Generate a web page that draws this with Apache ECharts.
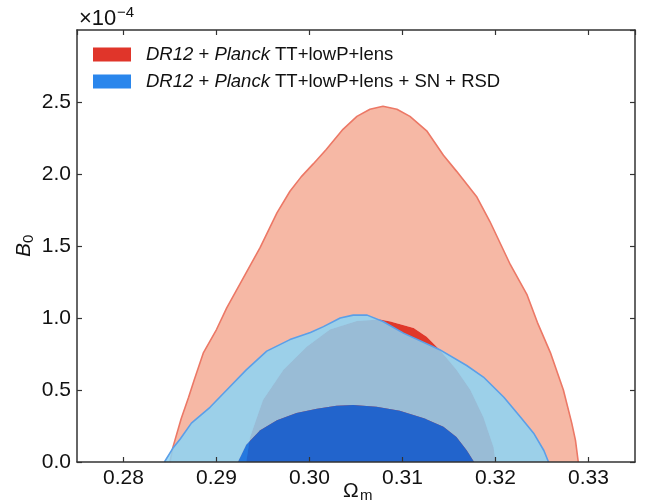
<!DOCTYPE html>
<html>
<head>
<meta charset="utf-8">
<script src="https://cdn.jsdelivr.net/npm/echarts@6/dist/echarts.min.js"></script>
<style>html,body{margin:0;padding:0;background:#fff;}#chart{width:650px;height:502px;}</style>
</head>
<body>
<div id="chart"></div>
<script>
// ---- data (Omega_m, B0 in units of 1e-4) ----
const seriesNames = ['DR12 + Planck TT+lowP+lens', 'DR12 + Planck TT+lowP+lens + SN + RSD'];
const redOuter = [[0.2850,0],[0.2853,0.10],[0.2862,0.30],[0.2870,0.45],[0.2876,0.57],[0.2886,0.76],[0.2900,0.92],[0.2911,1.07],[0.2929,1.28],[0.2947,1.49],[0.2965,1.73],[0.2979,1.88],[0.2991,1.98],[0.3004,2.07],[0.3018,2.17],[0.3036,2.31],[0.3051,2.40],[0.3065,2.45],[0.3079,2.47],[0.3094,2.45],[0.3108,2.40],[0.3126,2.30],[0.3144,2.13],[0.3158,2.02],[0.3180,1.84],[0.3194,1.67],[0.3216,1.37],[0.3234,1.16],[0.3245,0.97],[0.3259,0.76],[0.3273,0.50],[0.3282,0.27],[0.3286,0.15],[0.3289,0]];
const redInner = [[0.2932,0],[0.2936,0.17],[0.2950,0.43],[0.2972,0.64],[0.2997,0.80],[0.3022,0.92],[0.3051,0.98],[0.3076,0.99],[0.3087,0.976],[0.3112,0.93],[0.3126,0.87],[0.3140,0.78],[0.3158,0.64],[0.3173,0.50],[0.3187,0.31],[0.3198,0.10],[0.3200,0]];
const blueOuter = [[0.2844,0],[0.2853,0.095],[0.2861,0.16],[0.2873,0.27],[0.2893,0.38],[0.2911,0.50],[0.2932,0.64],[0.2954,0.77],[0.2979,0.85],[0.3001,0.90],[0.3015,0.94],[0.3033,1.00],[0.3047,1.02],[0.3062,1.02],[0.3079,0.976],[0.3101,0.895],[0.3140,0.78],[0.3169,0.67],[0.3187,0.59],[0.3209,0.45],[0.3227,0.31],[0.3241,0.20],[0.3252,0.08],[0.3257,0]];
const blueInner = [[0.2923,0],[0.2932,0.12],[0.2947,0.22],[0.2965,0.29],[0.2986,0.34],[0.3008,0.37],[0.3029,0.39],[0.3047,0.395],[0.3072,0.384],[0.3097,0.356],[0.3123,0.303],[0.3144,0.244],[0.3158,0.174],[0.3169,0.082],[0.3177,0]];

const FONT = 'Liberation Sans';
const AXC = '#333';

function polyRender(upper, lower, fill) {
  return function (params, api) {
    if (params.dataIndex !== 0) return null;
    const pts = upper.map(p => api.coord(p));
    if (lower) for (let i = lower.length - 1; i >= 0; i--) pts.push(api.coord(lower[i]));
    return { type: 'polygon', shape: { points: pts }, style: { fill: fill, stroke: null } };
  };
}
function band(name, upper, lower, fill, z) {
  return { type: 'custom', name: name, data: upper, encode: { x: 0, y: 1 }, z: z, silent: true,
    renderItem: polyRender(upper, lower, fill), clip: true };
}
function edge(name, pts, color, z) {
  return { type: 'line', name: name, data: pts, z: z, silent: true, showSymbol: false, symbol: 'none',
    lineStyle: { color: color, width: 1.6 }, smooth: false };
}
function xAx(pos, labels) {
  return { type: 'value', position: pos, min: 0.275, max: 0.335, z: 10,
    axisLine: { onZero: false, lineStyle: { color: AXC, width: 1.5 } },
    axisTick: { inside: true, length: 5, lineStyle: { color: AXC, width: 1.2 } },
    splitLine: { show: false },
    axisLabel: { show: labels, formatter: v => v.toFixed(2), showMinLabel: false, showMaxLabel: false,
      fontSize: 21, fontFamily: FONT, color: '#111', margin: 6 } };
}
function yAx(pos, labels) {
  return { type: 'value', position: pos, min: 0, max: 3, interval: 0.5, z: 10,
    axisLine: { onZero: false, lineStyle: { color: AXC, width: 1.5 } },
    axisTick: { inside: true, length: 5, lineStyle: { color: AXC, width: 1.2 } },
    splitLine: { show: false },
    axisLabel: { show: labels, formatter: v => v.toFixed(1), showMaxLabel: false,
      fontSize: 21, fontFamily: FONT, color: '#111', margin: 6 } };
}

const chart = echarts.init(document.getElementById('chart'), null, { renderer: 'canvas' });
chart.setOption({
  animation: false,
  grid: { left: 77, right: 15, top: 30, bottom: 40 },
  xAxis: [xAx('bottom', true), xAx('top', false)],
  yAxis: [yAx('left', true), yAx('right', false)],
  legend: {
    orient: 'vertical', left: 93, top: 45, padding: 0, itemWidth: 38, itemHeight: 14, itemGap: 8, icon: 'rect',
    selectedMode: false,
    data: [
      { name: seriesNames[0], itemStyle: { color: '#e0352a' } },
      { name: seriesNames[1], itemStyle: { color: '#2a86ec' } }
    ],
    formatter: n => n.replace('DR12', '{i|DR12}').replace('Planck', '{i|Planck}'),
    textStyle: { fontFamily: FONT, fontSize: 18.5, color: '#111', padding: [0, 0, 0, 10], lineHeight: 18,
      rich: { i: { fontFamily: FONT, fontSize: 18.5, fontStyle: 'italic', color: '#111', lineHeight: 18 } } }
  },
  graphic: [
    { type: 'text', z: 100, style: { text: '×10', x: 79, y: 19, font: '22px "Liberation Sans"', fill: '#111', verticalAlign: 'middle' } },
    { type: 'text', z: 100, style: { text: '−4', x: 117, y: 13, font: '15px "Liberation Sans"', fill: '#111', verticalAlign: 'middle' } },
    { type: 'text', z: 100, style: { text: 'Ω', x: 343, y: 491, font: '21px "Liberation Sans"', fill: '#111', verticalAlign: 'middle' } },
    { type: 'text', z: 100, style: { text: 'm', x: 360, y: 496, font: '15px "Liberation Sans"', fill: '#111', verticalAlign: 'middle' } },
    { type: 'group', x: 24, y: 246, rotation: Math.PI / 2, z: 100, children: [
      { type: 'text', z: 100, style: { text: 'B', x: -11, y: 0, font: 'italic 21px "Liberation Sans"', fill: '#111', verticalAlign: 'middle' } },
      { type: 'text', z: 100, style: { text: '0', x: 3, y: 5, font: '15px "Liberation Sans"', fill: '#111', verticalAlign: 'middle' } }
    ] }
  ],
  series: [
    band('red95', redOuter, redInner, '#f6b8a5', 1),
    band(seriesNames[0], redInner, null, '#e0382a', 2),
    edge('redEdge', redOuter, '#ec7866', 3),
    band('blue95', blueOuter, blueInner, 'rgba(140,211,244,0.85)', 4),
    band(seriesNames[1], blueInner, null, 'rgba(0,108,233,0.85)', 5),
    edge('blueEdge', blueOuter, '#5b9fe8', 6)
  ]
});
</script>
</body>
</html>
